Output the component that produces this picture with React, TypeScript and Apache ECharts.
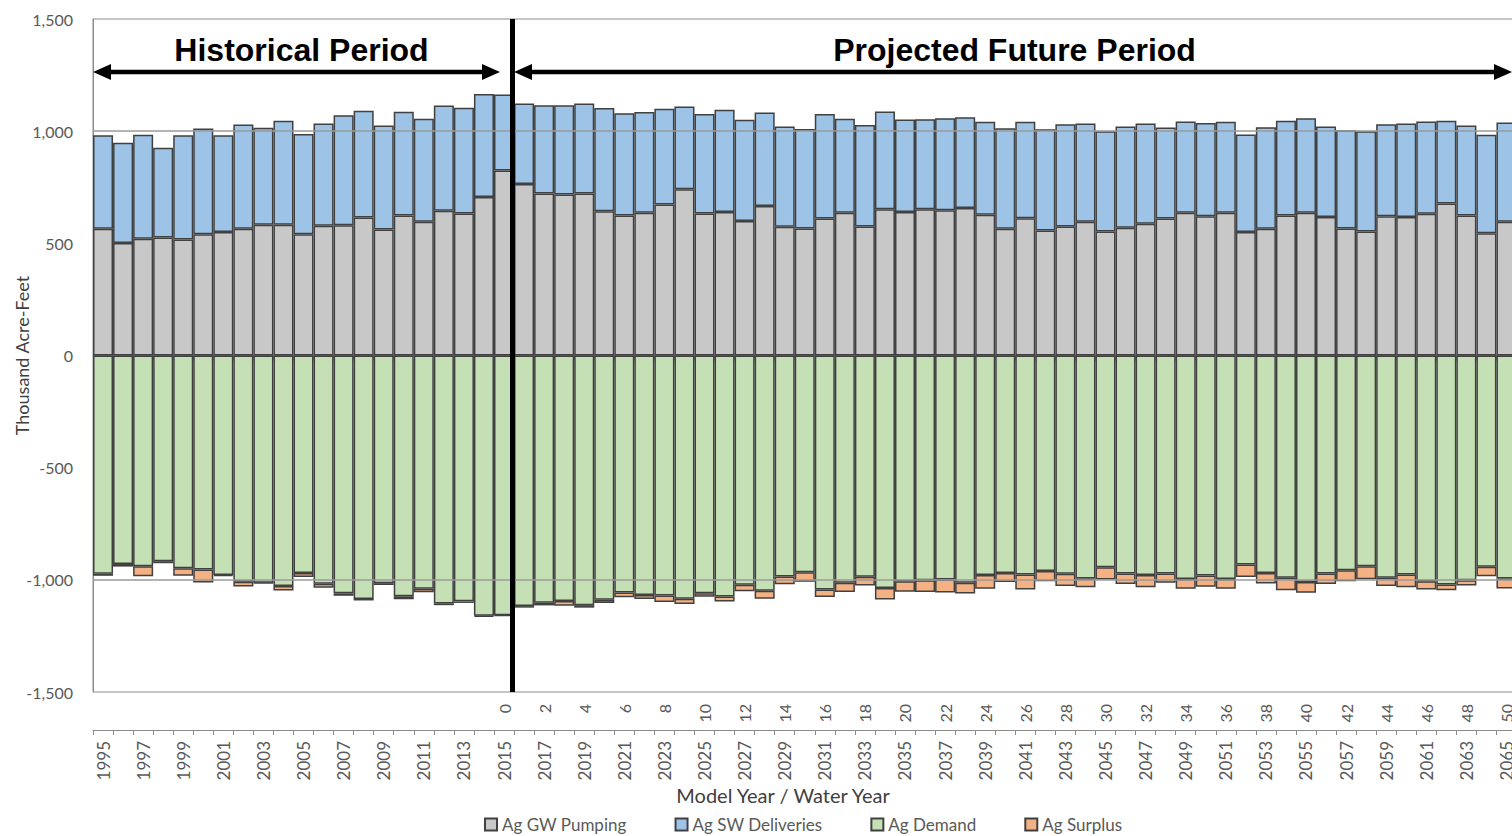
import React, { useEffect, useRef } from 'react';
import * as echarts from 'echarts';

const years: string[] = Array.from({ length: 71 }, (_, i) => String(1995 + i));
const waterYearLabels: string[] = years.map((y, i) => (i >= 20 ? String(i - 20) : ''));

const gwPumping = [565,502,520,526,517,541,550,565,583,583,541,578,581,615,562,624,596,645,633,707,825,765,722,718,722,643,624,636,673,741,633,640,599,666,574,566,611,636,575,652,640,652,648,658,627,565,612,557,575,596,553,569,587,611,636,621,636,550,565,624,636,617,566,553,621,617,632,678,624,545,596];
const swDeliveries = [417,446,464,400,465,471,432,465,432,463,446,456,490,476,463,462,459,469,471,459,338,358,394,398,401,460,456,449,427,369,444,455,452,417,447,444,465,419,452,436,412,401,410,404,415,448,430,452,456,438,447,452,447,405,407,415,406,435,453,422,422,404,438,447,410,417,411,368,401,439,443];
const agDemand = [-973,-929,-939,-917,-948,-954,-978,-1009,-1013,-1028,-969,-1018,-1060,-1085,-1015,-1073,-1040,-1105,-1096,-1160,-1158,-1117,-1102,-1094,-1113,-1089,-1057,-1068,-1070,-1084,-1060,-1074,-1022,-1049,-985,-966,-1043,-1013,-986,-1036,-1006,-1002,-998,-1013,-979,-969,-976,-961,-973,-994,-944,-972,-979,-972,-996,-981,-996,-932,-969,-991,-1010,-972,-957,-940,-991,-976,-1006,-1021,-1002,-942,-994];
const agSurplus = [-9,-12,-45,-9,-34,-58,-5,-21,-3,-19,-18,-17,-11,-7,-8,-14,-15,-8,-7,-4,-3,-7,-12,-21,-11,-14,-21,-17,-29,-24,-15,-23,-29,-35,-35,-43,-33,-41,-39,-52,-47,-52,-58,-48,-61,-41,-67,-45,-55,-39,-55,-47,-54,-41,-44,-50,-44,-55,-47,-55,-48,-47,-49,-57,-37,-57,-37,-25,-23,-42,-45];
const refLines = [1000, -1000];
const yTicks = { min: -1500, max: 1500, interval: 500 };

const seriesNames = ['Ag GW Pumping', 'Ag SW Deliveries', 'Ag Demand', 'Ag Surplus'];
const seriesColors = ['#C8C8C8', '#9DC3E6', '#C5E0B4', '#F4B183'];

const FONT = 'Lato, "Noto Sans", sans-serif';
const AXIS_GRAY = '#8c8c8c';

export default function App() {
  const ref = useRef<HTMLDivElement>(null);
  useEffect(() => {
    document.body.style.margin = '0';
    document.body.style.overflow = 'hidden';
    if (!ref.current) return;
    const chart = echarts.init(ref.current, null, { renderer: 'svg' });
    const datasets = [gwPumping, swDeliveries, agDemand, agSurplus];
    const barSeries = datasets.map((d, k) => ({
      name: seriesNames[k],
      type: 'bar',
      stack: 'total',
      data: d,
      barCategoryGap: '0%',
      z: 3,
      itemStyle: { color: seriesColors[k], borderColor: '#404040', borderWidth: 1.5 },
    }));
    const axisLineCommon = { show: true, lineStyle: { color: AXIS_GRAY, width: 1 } };
    const tickCommon = { show: true, interval: 0, length: 5, lineStyle: { color: AXIS_GRAY, width: 1 } };
    const headY = 72;
    const option: any = {
      animation: false,
      textStyle: { fontFamily: FONT },
      grid: {
        left: 93, top: 19, width: 1423.5, height: 673,
        outerBoundsMode: 'none', containLabel: false,
        show: true, borderColor: AXIS_GRAY, borderWidth: 1, backgroundColor: 'transparent',
      },
      legend: {
        data: seriesNames,
        left: 484, top: 816,
        itemWidth: 12, itemHeight: 12, itemGap: 48,
        icon: 'rect',
        padding: 0,
        textStyle: { fontSize: 17, color: '#595959', fontFamily: FONT },
      },
      xAxis: [
        {
          type: 'category', data: waterYearLabels, position: 'bottom',
          axisLine: axisLineCommon, axisTick: tickCommon,
          axisLabel: { interval: 1, rotate: 90, margin: 12, fontSize: 16, color: '#595959', fontFamily: FONT },
        },
        {
          type: 'category', data: years, position: 'bottom', offset: 38,
          axisLine: axisLineCommon, axisTick: tickCommon,
          axisLabel: { interval: 1, rotate: 90, margin: 11, fontSize: 17, color: '#595959', fontFamily: FONT },
        },
      ],
      yAxis: {
        type: 'value', min: yTicks.min, max: yTicks.max, interval: yTicks.interval,
        axisLine: axisLineCommon, axisTick: { show: false }, splitLine: { show: false },
        axisLabel: {
          margin: 20, fontSize: 16, color: '#595959', fontFamily: FONT,
          formatter: (v: number) => v.toLocaleString('en-US'),
        },
        name: 'Thousand Acre-Feet', nameLocation: 'middle', nameGap: 62, nameMoveOverlap: false,
        nameTextStyle: { fontSize: 18, color: '#404040', fontFamily: FONT },
      },
      series: [
        {
          type: 'line', data: years.map(() => null), z: 1, symbol: 'none', silent: true,
          markLine: {
            silent: true, symbol: 'none', label: { show: false },
            lineStyle: { color: '#9a9a9a', width: 1.5, type: 'solid' },
            data: refLines.map((v) => ({ yAxis: v })),
          },
        },
        ...barSeries,
      ],
      graphic: [
        { type: 'line', z: 20, shape: { x1: 512.5, y1: 19, x2: 512.5, y2: 692 }, style: { stroke: '#000', lineWidth: 5 } },
        { type: 'line', z: 20, shape: { x1: 105, y1: headY, x2: 488, y2: headY }, style: { stroke: '#000', lineWidth: 4.5 } },
        { type: 'polygon', z: 20, shape: { points: [[93, headY], [111, headY - 8], [111, headY + 8]] }, style: { fill: '#000' } },
        { type: 'polygon', z: 20, shape: { points: [[500, headY], [482, headY - 8], [482, headY + 8]] }, style: { fill: '#000' } },
        { type: 'line', z: 20, shape: { x1: 525, y1: headY, x2: 1500, y2: headY }, style: { stroke: '#000', lineWidth: 4.5 } },
        { type: 'polygon', z: 20, shape: { points: [[514, headY], [532, headY - 8], [532, headY + 8]] }, style: { fill: '#000' } },
        { type: 'polygon', z: 20, shape: { points: [[1512, headY], [1494, headY - 8], [1494, headY + 8]] }, style: { fill: '#000' } },
        {
          type: 'text', z: 20, x: 301.5, y: 50,
          style: { text: 'Historical Period', fontSize: 32, fontWeight: 'bold', fontFamily: '"Liberation Sans", Arial, sans-serif', fill: '#000', align: 'center', verticalAlign: 'middle' },
        },
        {
          type: 'text', z: 20, x: 1014.5, y: 50,
          style: { text: 'Projected Future Period', fontSize: 32, fontWeight: 'bold', fontFamily: '"Liberation Sans", Arial, sans-serif', fill: '#000', align: 'center', verticalAlign: 'middle' },
        },
        {
          type: 'text', z: 20, x: 783, y: 795,
          style: { text: 'Model Year / Water Year', fontSize: 20, fontFamily: FONT, fill: '#404040', align: 'center', verticalAlign: 'middle' },
        },
      ],
    };
    chart.setOption(option);
    return () => chart.dispose();
  }, []);
  return <div ref={ref} style={{ width: 1512, height: 836 }} />;
}
